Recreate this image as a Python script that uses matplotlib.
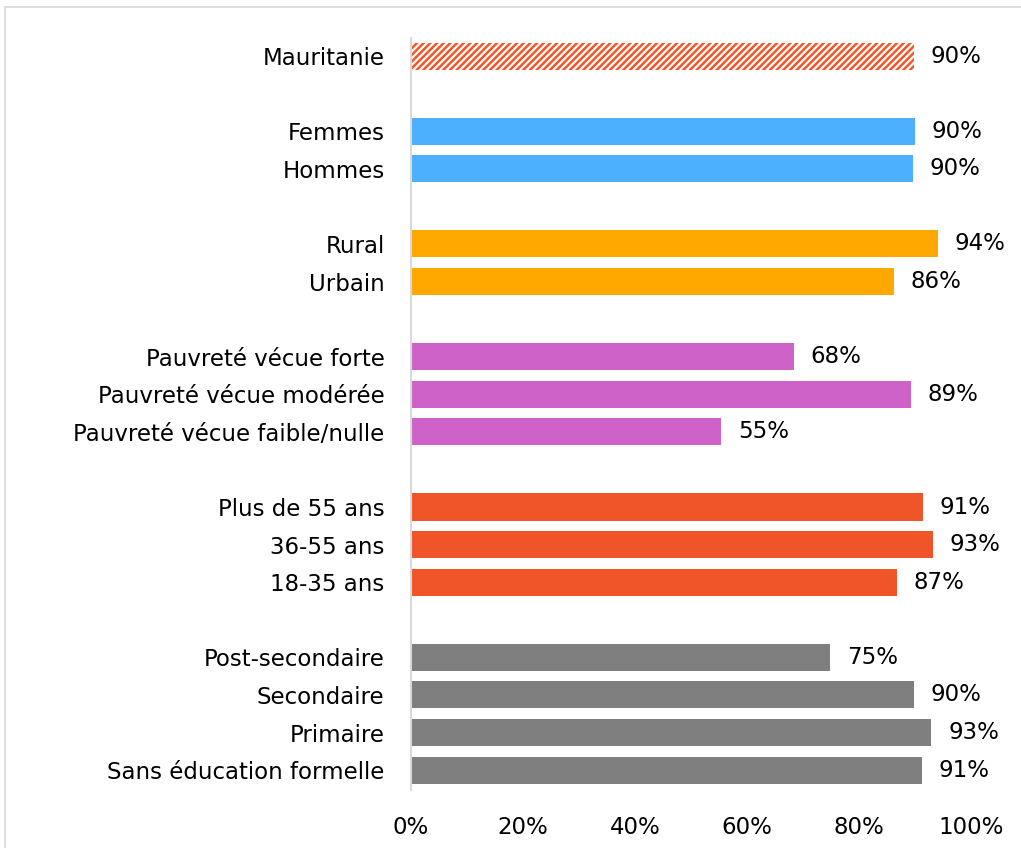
import matplotlib
matplotlib.use("Agg")
import matplotlib.pyplot as plt
from matplotlib.patches import Rectangle

plt.rcParams["font.family"] = ["DejaVu Sans"]
plt.rcParams["hatch.linewidth"] = 1.8

# Groups of bars, top to bottom
groups = [
    ["Mauritanie"],
    ["Femmes", "Hommes"],
    ["Rural", "Urbain"],
    ["Pauvreté vécue forte", "Pauvreté vécue modérée", "Pauvreté vécue faible/nulle"],
    ["Plus de 55 ans", "36-55 ans", "18-35 ans"],
    ["Post-secondaire", "Secondaire", "Primaire", "Sans éducation formelle"],
]
group_values = [
    [0.898],
    [0.900, 0.896],
    [0.941, 0.862],
    [0.684, 0.893, 0.554],
    [0.914, 0.932, 0.868],
    [0.748, 0.898, 0.929, 0.912],
]
group_colors = ["#F4572A", "#4DB0FF", "#FFA800", "#CF62C8", "#F05529", "#7F7F7F"]

ticks = [0, 0.2, 0.4, 0.6, 0.8, 1.0]
tick_labels = ["0%", "20%", "40%", "60%", "80%", "100%"]

FS = 16.5

fig = plt.figure(figsize=(10.21, 8.48), dpi=100)
ax = fig.add_axes([411 / 1021, 1 - 790 / 848, 560 / 1021, (790 - 38) / 848])

labels, ypos = [], []
slot = 0
for gi, (names, vals) in enumerate(zip(groups, group_values)):
    for name, v in zip(names, vals):
        if gi == 0:
            ax.barh(slot, v, height=0.72, facecolor="white",
                    edgecolor=group_colors[gi], hatch="/////", linewidth=0)
        else:
            ax.barh(slot, v, height=0.72, color=group_colors[gi])
        ax.text(v + 0.03, slot, f"{v * 100:.0f}%", va="center", ha="left",
                fontsize=FS, color="#000000")
        labels.append(name)
        ypos.append(slot)
        slot += 1
    slot += 1

ax.set_ylim(ypos[-1] + 0.53, -0.48)
ax.set_xlim(0, 1.0)
ax.set_yticks(ypos)
ax.set_yticklabels(labels, fontsize=FS)
ax.set_xticks(ticks)
ax.set_xticklabels(tick_labels, fontsize=FS)
ax.tick_params(length=0)
ax.tick_params(axis="y", pad=19)
ax.tick_params(axis="x", pad=19)
for side in ["top", "right", "bottom"]:
    ax.spines[side].set_visible(False)
ax.spines["left"].set_color("#D9D9D9")
ax.spines["left"].set_linewidth(1.5)

# light frame around the chart area
fig.patches.append(Rectangle((5 / 1021, -0.1), 1.2, 1 - 7 / 848 + 0.1,
                             transform=fig.transFigure, fill=False,
                             edgecolor="#D9D9D9", linewidth=1.2))

fig.savefig("out.png", dpi=100)
